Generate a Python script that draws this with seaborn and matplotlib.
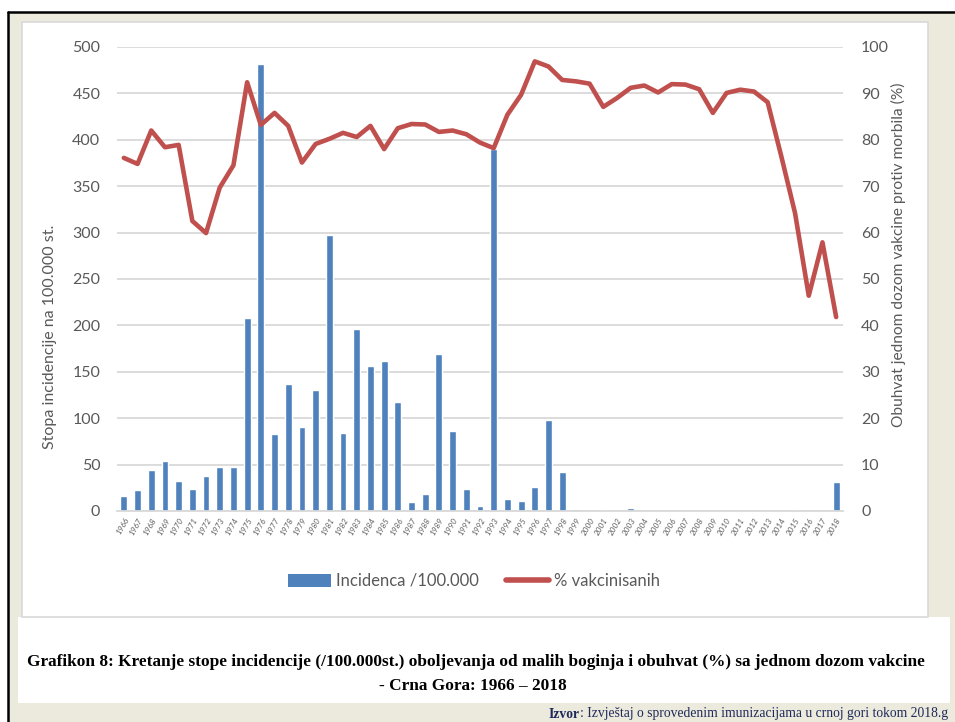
import numpy as np
import pandas as pd
import seaborn as sns
import matplotlib.pyplot as plt
from matplotlib.patches import Rectangle, Patch
from matplotlib.lines import Line2D

# data
years = list(range(1966, 2019))
incidence = [16, 23, 44, 54, 32, 24, 38, 47, 47, 208,
             482, 83, 137, 90, 130, 297, 84, 196, 156, 162,
             117, 10, 18, 169, 86, 24, 5, 390, 13, 11,
             26, 98, 42, 2, 0.5, 1, 0, 3, 0, 0,
             0, 0, 0, 0, 0, 0, 0, 0, 0, 1.4,
             0, 0, 31]
vaccinated = [76.1, 74.8, 82.0, 78.4, 78.9, 62.5, 59.9, 69.7, 74.5, 92.4,
              83.2, 85.8, 83.0, 75.1, 79.1, 80.2, 81.5, 80.6, 83.0, 78.0,
              82.5, 83.4, 83.3, 81.7, 82.0, 81.2, 79.4, 78.2, 85.4, 89.7,
              96.9, 95.8, 92.9, 92.6, 92.1, 87.1, 89.0, 91.2, 91.7, 90.2,
              92.0, 91.9, 90.9, 85.8, 90.1, 90.8, 90.4, 88.1, 76.4, 64.2,
              46.4, 57.9, 41.8]
left_ticks = [0, 50, 100, 150, 200, 250, 300, 350, 400, 450, 500]
right_ticks = [0, 10, 20, 30, 40, 50, 60, 70, 80, 90, 100]

df = pd.DataFrame({"year": years, "incidence": incidence, "vacc": vaccinated})
df["pos"] = np.arange(len(df))

BLUE = "#4F81BD"
RED = "#C0504D"
GRID = "#D9D9D9"
TXT = "#595959"
BEIGE = "#ECEADC"

sns.set_theme(style="white")
plt.rcParams["font.family"] = ["Lato", "DejaVu Sans"]

W, H = 955, 722
fig = plt.figure(figsize=(9.55, 7.22), dpi=100, facecolor="white")


def fx(px):
    return px / W


def fy(py):
    return 1 - py / H


def box(x0, y0, x1, y1, **kw):
    r = Rectangle((fx(x0), fy(y1)), fx(x1) - fx(x0), fy(y0) - fy(y1),
                  transform=fig.transFigure, **kw)
    fig.add_artist(r)


# page background, frame, chart panel, caption area
box(8, 12, 955, 722, facecolor=BEIGE, edgecolor="none", zorder=-10)
fig.add_artist(Line2D([fx(8), fx(955)], [fy(12), fy(12)], transform=fig.transFigure,
                      color="black", lw=1.8, zorder=-5))
fig.add_artist(Line2D([fx(8), fx(8)], [fy(12), fy(722)], transform=fig.transFigure,
                      color="black", lw=1.8, zorder=-5))
box(18, 617, 950, 703, facecolor="white", edgecolor="none", zorder=-9)
box(22, 22, 928, 617, facecolor="white", edgecolor=GRID, lw=1.2, zorder=-8)

ax = fig.add_axes([fx(117), fy(511), fx(843) - fx(117), fy(47) - fy(511)])
ax.patch.set_visible(False)

sns.barplot(data=df, x="pos", y="incidence", color=BLUE, width=0.5,
            saturation=1, ax=ax, zorder=2)
ax.set_xlim(-0.5, len(years) - 0.5)
ax.set_ylim(0, 500)
ax.set_yticks(left_ticks)
ax.set_xticks(df["pos"])
ax.set_xticklabels(df["year"].astype(str), rotation=60, ha="right", va="top",
                   rotation_mode="anchor", fontsize=5.9, color=TXT, style="italic")
ax.set_xticks(np.arange(len(years) + 1) - 0.5, minor=True)
ax.tick_params(axis="x", which="major", length=0, pad=4)
ax.tick_params(axis="x", which="minor", length=3, color=GRID, width=1)
ax.tick_params(axis="y", length=0, pad=12, labelsize=11.5, labelcolor=TXT)
ax.grid(axis="y", color=GRID, lw=1.3, zorder=0)
ax.set_axisbelow(True)
for s in ["top", "right", "left"]:
    ax.spines[s].set_visible(False)
ax.spines["bottom"].set_color(GRID)
ax.spines["bottom"].set_linewidth(1.3)
ax.set_xlabel("")
ax.set_ylabel("Stopa incidencije na 100.000 st.", fontsize=11.5, color=TXT)
ax.yaxis.set_label_coords(-0.083, 0.375)

ax2 = ax.twinx()
sns.lineplot(data=df, x="pos", y="vacc", color=RED, lw=3.3, ax=ax2)
ax2.set_ylim(0, 100)
ax2.set_yticks(right_ticks)
ax2.tick_params(axis="y", length=0, pad=13, labelsize=11.5, labelcolor=TXT)
for s in ax2.spines.values():
    s.set_visible(False)
ax2.set_xlabel("")
ax2.set_ylabel("Obuhvat jednom dozom vakcine protiv morbila (%)", fontsize=11.2,
               color=TXT, rotation=90)
ax2.yaxis.set_label_coords(1.066, 0.552)

handles = [Patch(facecolor=BLUE, edgecolor="none"),
           Line2D([0], [0], color=RED, lw=4)]
fig.legend(handles, ["Incidenca /100.000", "% vakcinisanih"], ncol=2,
           loc="center", bbox_to_anchor=(fx(474), fy(581)), frameon=False,
           handlelength=2.6, handleheight=0.8, handletextpad=0.3, columnspacing=1.6,
           prop={"family": ["Lato", "DejaVu Sans"], "size": 12},
           labelcolor=TXT)

cap_font = {"family": ["Liberation Serif", "DejaVu Serif"], "weight": "bold",
            "size": 12.4, "color": "black"}
fig.text(fx(476), fy(662), "Grafikon 8: Kretanje stope incidencije (/100.000st.) oboljevanja "
         "od malih boginja i obuhvat (%) sa jednom dozom vakcine",
         ha="center", va="center", **cap_font)
fig.text(fx(473), fy(686), "- Crna Gora: 1966 \u2013 2018", ha="center", va="center",
         **cap_font)

# source line, right-aligned with a bold "Izvor"
src_col = "#1F2A5A"
src_fam = ["Liberation Serif", "DejaVu Serif"]
t2 = fig.text(fx(948), fy(714), ": Izvje\u0161taj o sprovedenim imunizacijama u crnoj gori tokom 2018.g",
              ha="right", va="center", fontsize=9.8, color=src_col, family=src_fam)
fig.canvas.draw()
bb = t2.get_window_extent()
fig.text(bb.x0 / W, fy(714), "Izvor", ha="right", va="center", fontsize=9.8,
         weight="bold", color=src_col, family=src_fam)

fig.savefig("out.png", dpi=100, facecolor=fig.get_facecolor())
